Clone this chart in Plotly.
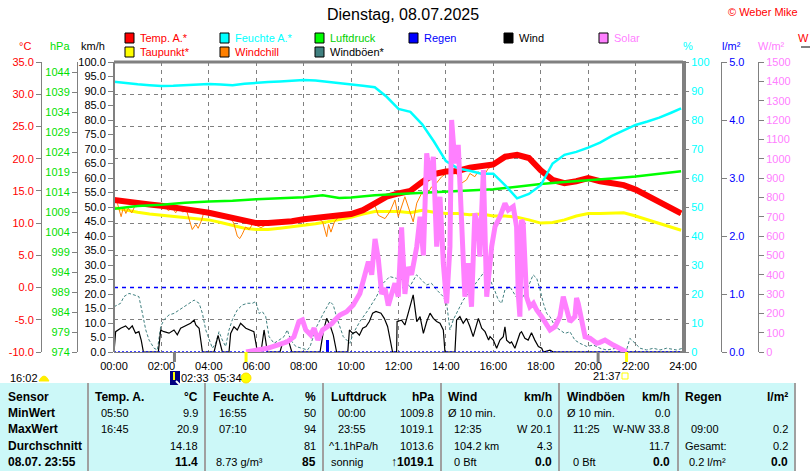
import plotly.graph_objects as go

W, H = 810, 471
FONT = "Liberation Sans, Arial, sans-serif"

# ---------------- data ----------------
hours_half = [i * 0.5 for i in range(48)] + [23.92]
temp_c = [13.6, 13.3, 13.0, 12.9, 12.7, 12.5, 12.2, 11.9, 11.6, 11.2,
          10.7, 10.2, 10.0, 10.0, 10.1, 10.3, 10.6, 10.8, 10.9, 11.1,
          11.4, 12.0, 13.0, 14.1, 14.6, 15.0, 16.4, 17.6, 18.0, 18.1,
          18.6, 18.9, 19.1, 20.3, 20.6, 20.1, 18.2, 16.7, 16.2, 16.5,
          17.0, 16.5, 16.2, 15.9, 15.2, 14.2, 13.3, 12.4, 11.5]
dew_c = [12.4, 12.0, 11.7, 11.4, 11.2, 11.0, 10.8, 10.6, 10.5, 10.1,
         9.6, 9.2, 9.0, 9.0, 9.2, 9.4, 9.7, 9.9, 10.2, 10.5,
         10.9, 11.4, 11.8, 11.8, 11.8, 11.6, 12.0, 11.7, 11.5, 11.5,
         11.3, 11.4, 11.1, 11.1, 10.9, 10.5, 10.0, 10.1, 10.5, 11.1,
         11.5, 11.5, 11.5, 11.6, 11.1, 10.5, 10.0, 9.4, 8.9]
hum_pct = [93.2, 92.7, 92.3, 92.0, 91.7, 91.8, 92.0, 92.2, 92.4, 92.2,
           92.0, 92.5, 92.9, 93.1, 93.3, 93.6, 93.8, 93.6, 93.2, 92.8,
           92.3, 91.8, 91.3, 88.0, 83.8, 82.8, 78.5, 72.5, 65.8, 63.3,
           62.5, 61.5, 61.5, 57.5, 53.0, 54.5, 57.5, 65.0, 68.0, 69.0,
           70.5, 72.2, 74.5, 76.5, 78.3, 79.5, 80.8, 82.5, 84.0]

pressure_pts = [(0, 1009.8), (1, 1010.5), (2, 1010.8), (3, 1011.3), (4, 1011.6),
                (5, 1011.8), (6, 1012.2), (7, 1012.4), (8, 1012.7), (8.8, 1013.2),
                (9.5, 1012.5), (10, 1012.6), (11, 1013.2), (12, 1013.5), (13, 1013.8),
                (14, 1014.0), (15, 1014.3), (16, 1014.7), (17, 1015.3), (18, 1016.0),
                (19, 1016.5), (20, 1016.9), (21, 1017.4), (22, 1017.9), (23, 1018.6),
                (23.92, 1019.2)]

windchill_pts = [(0, 13.6), (0.15, 13.0), (0.3, 11.0), (0.4, 12.5), (0.5, 11.5), (0.6, 12.3),
                 (0.75, 11.6), (0.9, 12.8), (1.05, 12.9), (1.5, 12.9), (1.9, 12.7), (2.05, 12.2),
                 (2.15, 12.6), (2.3, 11.9), (2.45, 12.5), (2.6, 11.6), (2.75, 12.3), (2.9, 11.7),
                 (3.05, 12.1), (3.15, 10.8), (3.3, 9.0), (3.45, 9.8), (3.55, 9.2), (3.7, 10.5),
                 (3.8, 11.8), (4.0, 11.6), (4.5, 11.2), (4.95, 10.6), (5.05, 10.0), (5.2, 8.0),
                 (5.3, 7.6), (5.4, 8.2), (5.55, 9.4), (5.7, 9.0), (5.85, 9.9), (6.2, 9.3),
                 (6.4, 9.7), (6.55, 10.0), (7.5, 10.3), (8.6, 10.8), (8.8, 10.2), (8.97, 7.9),
                 (9.05, 9.8), (9.15, 8.6), (9.3, 10.2), (9.5, 11.1), (10.0, 11.4), (10.5, 12.0),
                 (11.0, 12.8), (11.15, 11.2), (11.43, 10.7), (11.64, 11.8), (11.85, 13.6),
                 (11.99, 11.0), (12.27, 14.1), (12.41, 12.6), (12.62, 10.2), (12.77, 13.1),
                 (12.97, 14.6), (13.19, 14.3), (13.39, 15.6), (13.6, 16.2), (13.82, 17.2),
                 (14.03, 17.7), (14.24, 18.0), (14.45, 17.7), (14.66, 16.2), (14.87, 16.7),
                 (15.01, 17.7), (15.22, 17.2), (15.36, 18.0), (15.57, 17.2), (15.79, 18.5),
                 (16.0, 18.8), (16.5, 20.3), (17.0, 20.6), (17.5, 20.0), (18.0, 18.1),
                 (18.5, 16.6), (19.0, 16.1), (19.5, 16.4), (20.0, 16.9), (20.5, 16.4),
                 (21.0, 16.1), (21.5, 15.7), (22.0, 15.0), (22.5, 14.0), (23.0, 13.1),
                 (23.5, 12.2), (23.92, 11.3)]

wind_pts = [(0.0, 0), (0.07, 7), (0.28, 8.2), (0.49, 9.0), (0.63, 7.8), (0.77, 9.0), (0.91, 6.5),
            (1.05, 7.0), (1.15, 4), (1.24, 0), (1.87, 0), (1.97, 7.5), (2.11, 7.0), (2.32, 6.5),
            (2.53, 7.6), (2.67, 5.9), (2.81, 8.2), (2.95, 8.8), (3.09, 9.3), (3.23, 9.9),
            (3.38, 11.0), (3.45, 9.3), (3.59, 8.2), (3.73, 0), (4.22, 0), (4.39, 5.7), (4.57, 0),
            (4.85, 0), (4.92, 6.4), (5.06, 8.7), (5.2, 7.6), (5.34, 9.9), (5.56, 8.2), (5.77, 7.6),
            (5.9, 7.0), (6.05, 0), (6.2, 0), (6.33, 7.6), (6.47, 0), (7.0, 0), (7.1, 2.8),
            (7.24, 4), (7.38, 3.4), (7.5, 0), (8.69, 0), (8.83, 7.1), (8.97, 11.6), (9.11, 9.3),
            (9.25, 5.8), (9.39, 0), (9.86, 0), (9.93, 7.6), (10.07, 6.4), (10.21, 7.0),
            (10.35, 5.8), (10.49, 8.2), (10.63, 8.8), (10.77, 10.5), (10.91, 13.4), (11.05, 14.0),
            (11.26, 13.4), (11.4, 11.6), (11.54, 8.8), (11.65, 4.2), (11.75, 0), (11.92, 0),
            (11.94, 10.5), (12.13, 11.0), (12.27, 9.3), (12.41, 13.4), (12.62, 19.7),
            (12.77, 10.5), (12.91, 12.2), (13.05, 6.4), (13.19, 10.5), (13.33, 13.4),
            (13.47, 11.6), (13.61, 10.5), (13.75, 9.9), (13.89, 7.6), (13.96, 0), (14.38, 0),
            (14.45, 11.0), (14.59, 12.2), (14.73, 9.9), (14.87, 11.6), (15.01, 8.8), (15.15, 5.3),
            (15.3, 9.9), (15.37, 11.6), (15.51, 8.2), (15.65, 7.0), (15.8, 4.1), (15.86, 5.3),
            (16.0, 4.1), (16.14, 1.3), (16.28, 4.1), (16.42, 5.3), (16.49, 8.7), (16.56, 4.1),
            (16.7, 3.0), (16.77, 3.5), (16.91, 1.3), (17.12, 6.4), (17.19, 7.0), (17.33, 4.7),
            (17.47, 4.1), (17.61, 6.6), (17.75, 4.1), (17.9, 1.9), (18.04, 1.3), (18.11, 0),
            (18.39, 0.6), (18.53, 0), (24.0, 0)]

gust_pts = [(0.0, 15.6), (0.28, 16.8), (0.42, 19.1), (0.63, 20.2), (0.84, 19.7), (1.05, 19.1),
            (1.2, 13.3), (1.34, 7.6), (1.48, 4.1), (1.69, 1.3), (1.83, 0.7), (1.97, 8.8),
            (2.11, 11.1), (2.32, 12.8), (2.53, 13.3), (2.74, 14.5), (2.95, 15.6), (3.16, 16.8),
            (3.38, 17.9), (3.59, 16.8), (3.73, 13.3), (3.87, 7.6), (4.01, 4.1), (4.15, 1.3),
            (4.29, 3.0), (4.43, 7.0), (4.57, 4.1), (4.71, 1.9), (4.85, 7.6), (4.99, 11.1),
            (5.2, 14.5), (5.41, 16.2), (5.63, 16.8), (5.84, 16.8), (5.98, 17.4), (6.12, 13.3),
            (6.26, 13.9), (6.4, 12.2), (6.54, 5.3), (6.75, 3.0), (6.96, 4.1), (7.17, 5.3),
            (7.31, 7.6), (7.45, 4.1), (7.67, 1.9), (7.88, 1.3), (8.16, 0.7), (8.27, 1.9),
            (8.55, 8.8), (8.83, 13.3), (9.11, 17.4), (9.25, 16.2), (9.39, 12.0), (9.67, 5.3),
            (9.95, 3.0), (10.09, 6.4), (10.37, 10.5), (10.72, 14.5), (11.07, 19.1), (11.35, 23.7),
            (11.63, 26.0), (11.91, 25.4), (12.19, 24.9), (12.48, 22.6), (12.76, 26.6),
            (12.97, 24.9), (13.18, 23.1), (13.39, 23.7), (13.6, 21.5), (13.89, 19.1),
            (14.03, 16.8), (14.17, 7.6), (14.31, 11.1), (14.52, 14.5), (14.73, 17.9),
            (14.94, 20.2), (15.15, 22.6), (15.36, 24.9), (15.57, 27.1), (15.79, 28.9),
            (15.86, 25.0), (16.07, 21.0), (16.21, 17.9), (16.35, 16.8), (16.49, 21.5),
            (16.7, 22.5), (16.84, 20.8), (17.05, 17.9), (17.26, 19.1), (17.47, 22.5),
            (17.68, 26.6), (17.83, 25.4), (17.97, 21.5), (18.11, 16.8), (18.25, 13.3),
            (18.39, 12.2), (18.6, 8.8), (18.81, 7.6), (19.02, 6.4), (19.23, 7.0), (19.44, 4.1),
            (19.65, 3.0), (19.94, 1.9), (20.22, 2.4), (20.5, 1.3), (20.78, 0.7), (21.2, 1.3),
            (21.62, 0.7), (21.76, 4.7), (21.98, 3.0), (22.19, 1.3), (22.47, 0.7), (22.75, 1.3),
            (23.03, 0.7), (23.31, 1.3), (23.73, 0.7), (24.0, 1.3)]

solar_pts = [(5.57, 0), (5.75, 4), (6.05, 10), (6.47, 19), (6.89, 36), (7.31, 53), (7.59, 79),
             (7.8, 157), (7.95, 166), (8.09, 114), (8.23, 97), (8.3, 88), (8.44, 123), (8.6, 62),
             (8.8, 114), (9.04, 130), (9.2, 148), (9.32, 166), (9.53, 191), (9.81, 208),
             (10.09, 243), (10.37, 303), (10.5, 364), (10.6, 390), (10.73, 467), (10.87, 400),
             (11.01, 585), (11.15, 480), (11.29, 300), (11.43, 330), (11.57, 240), (11.71, 300),
             (11.85, 355), (11.99, 286), (12.13, 645), (12.27, 300), (12.41, 440), (12.55, 400),
             (12.77, 545), (12.91, 700), (13.05, 500), (13.19, 1028), (13.33, 890), (13.47, 1010),
             (13.61, 545), (13.75, 803), (13.89, 459), (14.03, 252), (14.17, 545), (14.24, 1200),
             (14.38, 976), (14.52, 1071), (14.66, 717), (14.8, 286), (14.94, 459), (15.08, 234),
             (15.22, 717), (15.36, 648), (15.43, 493), (15.58, 941), (15.72, 286), (15.86, 459),
             (15.93, 545), (16.07, 648), (16.28, 700), (16.49, 769), (16.63, 734), (16.84, 752),
             (16.98, 648), (17.05, 303), (17.12, 183), (17.19, 683), (17.26, 665), (17.4, 286),
             (17.54, 234), (17.69, 252), (17.83, 217), (18.04, 183), (18.25, 140), (18.39, 114),
             (18.6, 131), (18.81, 183), (18.95, 286), (19.09, 217), (19.23, 157), (19.44, 183),
             (19.51, 279), (19.58, 252), (19.73, 166), (19.87, 79), (20.08, 71), (20.36, 45),
             (20.5, 50), (20.71, 62), (21.06, 36), (21.34, 19), (21.55, 10), (21.62, 0)]

rain_hours = [9.0]
rain_mm = [0.2]

time_ticks = list(range(0, 25, 2))
time_labels = ["%02d:00" % h for h in time_ticks]
temp_ticks = list(range(-10, 36, 5))
hpa_ticks = list(range(974, 1045, 5))
kmh_ticks = list(range(0, 101, 5))
hum_ticks = list(range(0, 101, 10))
rain_ticks = [0, 1, 2, 3, 4, 5]
solar_ticks = list(range(0, 1501, 100))

# table contents
table_rows = ["Sensor", "MinWert", "MaxWert", "Durchschnitt", "08.07. 23:55"]


def unzip(pts):
    return [p[0] for p in pts], [p[1] for p in pts]


def PX(x):
    return x / W


def PY(y):
    return 1 - y / H


PL, PR, PT, PB = 114, 683, 62, 352

fig = go.Figure()

tg, vg = unzip(gust_pts)
fig.add_trace(go.Scatter(x=tg, y=vg, yaxis="y", mode="lines",
                         line=dict(color="#408080", width=1, dash="3px,2px")))
tw, vw = unzip(wind_pts)
fig.add_trace(go.Scatter(x=tw, y=vw, yaxis="y", mode="lines",
                         line=dict(color="black", width=1.2)))
fig.add_trace(go.Bar(x=rain_hours, y=rain_mm, yaxis="y5", width=0.13,
                     marker=dict(color="#0000FF", line=dict(width=0))))
fig.add_trace(go.Scatter(x=[0, 24], y=[0, 0], yaxis="y5", mode="lines",
                         line=dict(color="#0000FF", width=1.5, dash="2px,2px")))
fig.add_trace(go.Scatter(x=[0, 24], y=[0, 0], yaxis="y2", mode="lines",
                         line=dict(color="#0000FF", width=1.5, dash="4px,4px")))
ts, vs = unzip(solar_pts)
fig.add_trace(go.Scatter(x=ts, y=vs, yaxis="y6", mode="lines",
                         line=dict(color="#FF80FF", width=5)))
fig.add_trace(go.Scatter(x=hours_half, y=hum_pct, yaxis="y4", mode="lines",
                         line=dict(color="#00FFFF", width=2.5)))
fig.add_trace(go.Scatter(x=hours_half, y=dew_c, yaxis="y2", mode="lines",
                         line=dict(color="#FFFF00", width=3)))
tp, vp = unzip(pressure_pts)
fig.add_trace(go.Scatter(x=tp, y=vp, yaxis="y3", mode="lines",
                         line=dict(color="#00FF00", width=2.5)))
tc, vc = unzip(windchill_pts)
fig.add_trace(go.Scatter(x=tc, y=vc, yaxis="y2", mode="lines",
                         line=dict(color="#FF8000", width=1)))
fig.add_trace(go.Scatter(x=hours_half, y=temp_c, yaxis="y2", mode="lines",
                         line=dict(color="#FF0000", width=6)))

tf = dict(family=FONT, size=11)
dom = [PY(PB), PY(PT)]

fig.update_layout(
    width=W, height=H, margin=dict(l=0, r=0, t=0, b=0),
    paper_bgcolor="white", plot_bgcolor="white", showlegend=False,
    font=dict(family=FONT, size=11, color="black"),
    bargap=0,
    xaxis=dict(domain=[PX(PL), PX(PR)], range=[0, 24], tickvals=time_ticks, ticktext=time_labels,
               showgrid=True, gridcolor="#808080", griddash="4px,4px", gridwidth=1,
               zeroline=False, showline=True, linecolor="#808080", linewidth=1,
               ticks="outside", ticklen=4, tickcolor="rgba(0,0,0,0)",
               tickfont=dict(family=FONT, size=11, color="black"), automargin=False),
    yaxis=dict(domain=dom, range=[0, 100], tickvals=kmh_ticks,
               ticktext=["%.1f" % v for v in kmh_ticks], showgrid=False, zeroline=False,
               showline=False, ticks="outside", ticklen=5, tickcolor="#808080",
               tickfont=dict(tf, color="black"), automargin=False),
    yaxis2=dict(overlaying="y", anchor="free", position=PX(41), side="left", range=[-10, 35],
                tickvals=temp_ticks, ticktext=["%.1f" % v for v in temp_ticks],
                showgrid=True, gridcolor="#808080", griddash="4px,4px", gridwidth=1,
                zeroline=False, showline=True, linecolor="#808080", linewidth=1,
                ticks="outside", ticklen=5, tickcolor="#808080",
                tickfont=dict(tf, color="#FF0000"), automargin=False),
    yaxis3=dict(overlaying="y", anchor="free", position=PX(77), side="left", range=[974, 1046.5],
                tickvals=hpa_ticks, showgrid=False, zeroline=False, showline=True,
                linecolor="#808080", linewidth=1, ticks="outside", ticklen=5, tickcolor="#808080",
                tickfont=dict(tf, color="#00E000"), automargin=False),
    yaxis4=dict(overlaying="y", anchor="x", side="right", range=[0, 100], tickvals=hum_ticks,
                showgrid=False, zeroline=False, showline=False, ticks="outside", ticklen=5,
                tickcolor="#808080", tickfont=dict(tf, color="#00FFFF"), automargin=False),
    yaxis5=dict(overlaying="y", anchor="free", position=PX(721), side="right", range=[0, 5],
                tickvals=rain_ticks, ticktext=["%.1f" % v for v in rain_ticks],
                showgrid=False, zeroline=False, showline=True, linecolor="#808080", linewidth=1,
                ticks="outside", ticklen=5, tickcolor="#808080",
                tickfont=dict(tf, color="#0000FF"), automargin=False),
    yaxis6=dict(overlaying="y", anchor="free", position=PX(758), side="right", range=[0, 1500],
                tickvals=solar_ticks, showgrid=False, zeroline=False, showline=True,
                linecolor="#808080", linewidth=1, ticks="outside", ticklen=5, tickcolor="#808080",
                tickfont=dict(tf, color="#FF80FF"), automargin=False),
)

shapes = []
ann = []


def line_px(x0, y0, x1, y1, color, width, layer="above"):
    shapes.append(dict(type="line", xref="paper", yref="paper", x0=PX(x0), y0=PY(y0),
                       x1=PX(x1), y1=PY(y1), line=dict(color=color, width=width), layer=layer))


def rect_px(x0, y0, x1, y1, fill, line_color=None, lw=1, layer="above"):
    shapes.append(dict(type="rect", xref="paper", yref="paper", x0=PX(x0), y0=PY(y0),
                       x1=PX(x1), y1=PY(y1), fillcolor=fill,
                       line=dict(color=line_color or fill, width=lw if line_color else 0),
                       layer=layer))


def txt(x, y, s, color="black", size=11, anchor="left", bold=False):
    if bold:
        s = "<b>%s</b>" % s
    ann.append(dict(x=PX(x), y=PY(y), xref="paper", yref="paper", text=s, showarrow=False,
                    xanchor=anchor, yanchor="middle", borderpad=0,
                    font=dict(family=FONT, size=size, color=color)))


# plot frame
line_px(PL, PT, PR, PT, "#808080", 3)
line_px(PL, PT, PL, PB, "#808080", 2)
line_px(PR + 1, PT - 1, PR + 1, PB + 1, "#808080", 4)

# title, copyright
txt(403, 15, "Dienstag, 08.07.2025", size=16, anchor="center")
txt(727, 12, "© Weber Mike", color="#FF0000", size=11)
txt(797, 38, "W", color="#FF0000", size=11)
line_px(801, 47, 810, 47, "#808080", 2)

# legend
legend = [
    (125, 38, "#FF0000", "Temp. A.*", "#FF0000"),
    (220, 38, "#00FFFF", "Feuchte A.*", "#00FFFF"),
    (315, 38, "#00FF00", "Luftdruck", "#00D000"),
    (409, 38, "#0000FF", "Regen", "#0000FF"),
    (504, 38, "#000000", "Wind", "#000000"),
    (599, 38, "#FF80FF", "Solar", "#FF80FF"),
    (125, 52, "#FFFF00", "Taupunkt*", "#FF0000"),
    (220, 52, "#FF8000", "Windchill", "#FF0000"),
    (315, 52, "#408080", "Windböen*", "#000000"),
]
for bx, by, bc, label, tcol in legend:
    rect_px(bx, by - 5, bx + 9, by + 5, bc, "#000000", 1)
    txt(bx + 14, by, label, color=tcol, size=11)

# axis titles
txt(25, 46, "°C", color="#FF0000", anchor="center")
txt(60, 46, "hPa", color="#00E000", anchor="center")
txt(93, 46, "km/h", color="black", anchor="center")
txt(688, 46, "%", color="#00FFFF", anchor="center")
txt(731, 46, "l/m²", color="#0000FF", anchor="center")
txt(771, 46, "W/m²", color="#FF80FF", anchor="center")

# sun / moon markers on the time axis
for hx, col in [(2.55, "#808080"), (5.57, "#FFFF00"), (20.42, "#808080"), (21.62, "#FFFF00")]:
    shapes.append(dict(type="line", xref="x", yref="paper", x0=hx, x1=hx, y0=PY(352),
                       y1=PY(362), line=dict(color=col, width=3)))

txt(9, 378, "16:02")
shapes.append(dict(type="path", xref="paper", yref="paper",
                   path="M %f,%f Q %f,%f %f,%f Z" % (PX(39), PY(381), PX(44), PY(371), PX(49), PY(381)),
                   fillcolor="#FFEE00", line=dict(color="#FFEE00", width=1)))
rect_px(170, 371, 180, 385, "#000080")
line_px(174, 372, 174, 380, "#FFFF00", 2)
line_px(176, 381, 180, 385, "#FFFFFF", 2)
txt(180, 378, "02:33")
txt(213, 378, "05:34")
shapes.append(dict(type="circle", xref="paper", yref="paper", x0=PX(241), y0=PY(373),
                   x1=PX(251), y1=PY(383), fillcolor="#FFFF00", line=dict(color="#FFE000", width=1)))
txt(607, 376, "21:37", anchor="center")
rect_px(622, 373, 628, 379, "rgba(0,0,0,0)", "#FFFF00", 1)

# table
rect_px(0, 383, 795, 471, "#CCF8F8", layer="below")
for sx in [88, 205, 323, 441, 559, 678, 795]:
    line_px(sx, 383, sx, 471, "#A0A0A0", 2)

rows_y = [397, 413, 429, 446, 462]
for ry, lab in zip(rows_y, table_rows):
    txt(7, ry, lab, bold=True, size=12)

cells = [
    # (x, row, text, anchor, bold)
    (94, 0, "Temp. A.", "left", True), (199, 0, "°C", "right", True),
    (100, 1, "05:50", "left", False), (199, 1, "9.9", "right", False),
    (100, 2, "16:45", "left", False), (199, 2, "20.9", "right", False),
    (199, 3, "14.18", "right", False), (199, 4, "11.4", "right", True),
    (212, 0, "Feuchte A.", "left", True), (317, 0, "%", "right", True),
    (218, 1, "16:55", "left", False), (317, 1, "50", "right", False),
    (218, 2, "07:10", "left", False), (317, 2, "94", "right", False),
    (317, 3, "81", "right", False),
    (215, 4, "8.73 g/m³", "left", False), (317, 4, "85", "right", True),
    (330, 0, "Luftdruck", "left", True), (435, 0, "hPa", "right", True),
    (337, 1, "00:00", "left", False), (435, 1, "1009.8", "right", False),
    (337, 2, "23:55", "left", False), (435, 2, "1019.1", "right", False),
    (328, 3, "^1.1hPa/h", "left", False), (435, 3, "1013.6", "right", False),
    (330, 4, "sonnig", "left", False), (435, 4, "↑1019.1", "right", True),
    (447, 0, "Wind", "left", True), (553, 0, "km/h", "right", True),
    (447, 1, "Ø 10 min.", "left", False), (553, 1, "0.0", "right", False),
    (453, 2, "12:35", "left", False), (553, 2, "W 20.1", "right", False),
    (453, 3, "104.2 km", "left", False), (553, 3, "4.3", "right", False),
    (453, 4, "0 Bft", "left", False), (553, 4, "0.0", "right", True),
    (566, 0, "Windböen", "left", True), (671, 0, "km/h", "right", True),
    (566, 1, "Ø 10 min.", "left", False), (671, 1, "0.0", "right", False),
    (572, 2, "11:25", "left", False), (671, 2, "W-NW 33.8", "right", False),
    (671, 3, "11.7", "right", False),
    (572, 4, "0 Bft", "left", False), (671, 4, "0.0", "right", True),
    (684, 0, "Regen", "left", True), (789, 0, "l/m²", "right", True),
    (690, 2, "09:00", "left", False), (789, 2, "0.2", "right", False),
    (684, 3, "Gesamt:", "left", False), (789, 3, "0.2", "right", False),
    (688, 4, "0.2 l/m²", "left", False), (789, 4, "0.0", "right", True),
]
for cx, r, s, a, b in cells:
    txt(cx, rows_y[r], s, anchor=a, bold=b, size=12 if b else 11)

fig.update_layout(shapes=shapes, annotations=ann)
fig.write_html("out.html", config={"displayModeBar": False})

with open("out.html", "r", encoding="utf-8") as f:
    html = f.read()
html = html.replace("<head>", "<head><style>html,body{margin:0;padding:0;overflow:hidden;}</style>", 1)
with open("out.html", "w", encoding="utf-8") as f:
    f.write(html)
